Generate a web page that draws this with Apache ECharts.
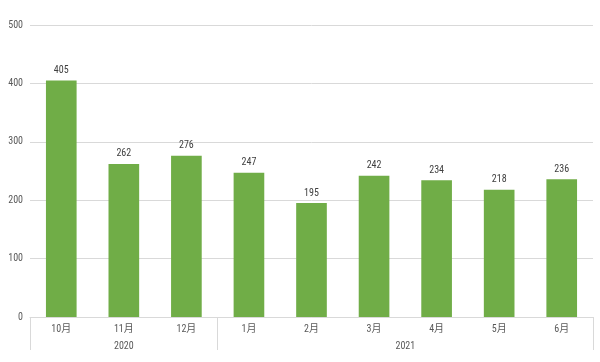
<!DOCTYPE html>
<html><head><meta charset="utf-8">
<script src="https://cdn.jsdelivr.net/npm/echarts@6/dist/echarts.min.js"></script>
<style>html,body{margin:0;padding:0;background:#fff}#c{width:600px;height:362px}</style>
</head><body><div id="c"></div>
<script>
const months = ['10月','11月','12月','1月','2月','3月','4月','5月','6月'];
const values = [405, 262, 276, 247, 195, 242, 234, 218, 236];
const years = ['2020', '2021'];
const yearSpans = [3, 6];
const yTicks = [0, 100, 200, 300, 400, 500];

// group boundaries and centers (in category units)
const bounds = [0]; const centers = [];
yearSpans.forEach(s => { const b = bounds[bounds.length-1]; centers.push(b + s/2); bounds.push(b + s); });

const FONT = '"Roboto Condensed","Noto Sans CJK JP",sans-serif';
const chart = echarts.init(document.getElementById('c'));
chart.setOption({
  animation: false,
  grid: {left: 30, right: 7, top: 25, bottom: 45, containLabel: false},
  xAxis: [{
    type: 'category', data: months, position: 'bottom',
    axisLine: {show: true, lineStyle: {color: '#d9d9d9', width: 1}},
    axisTick: {show: false},
    axisLabel: {color: '#595959', fontSize: 10, fontFamily: FONT, margin: 7}
  }, {
    type: 'value', min: 0, max: months.length, position: 'bottom',
    axisLine: {show: false},
    splitLine: {show: false},
    axisTick: {show: true, customValues: bounds, length: 33, lineStyle: {color: '#d9d9d9'}},
    axisLabel: {customValues: centers, formatter: v => years[centers.indexOf(v)] || '',
      color: '#595959', fontSize: 10, fontFamily: FONT, margin: 24}
  }],
  yAxis: {
    type: 'value', min: yTicks[0], max: yTicks[yTicks.length-1], interval: 100,
    axisLine: {show: false}, axisTick: {show: false},
    splitLine: {lineStyle: {color: '#d9d9d9'}},
    axisLabel: {color: '#595959', fontSize: 10, fontFamily: FONT, margin: 7}
  },
  series: [{
    type: 'bar', data: values, xAxisIndex: 0, barWidth: '49%',
    itemStyle: {color: '#70ad47'},
    label: {show: true, position: 'top', distance: 5, color: '#404040', fontSize: 10, fontFamily: FONT}
  }]
});
</script></body></html>
